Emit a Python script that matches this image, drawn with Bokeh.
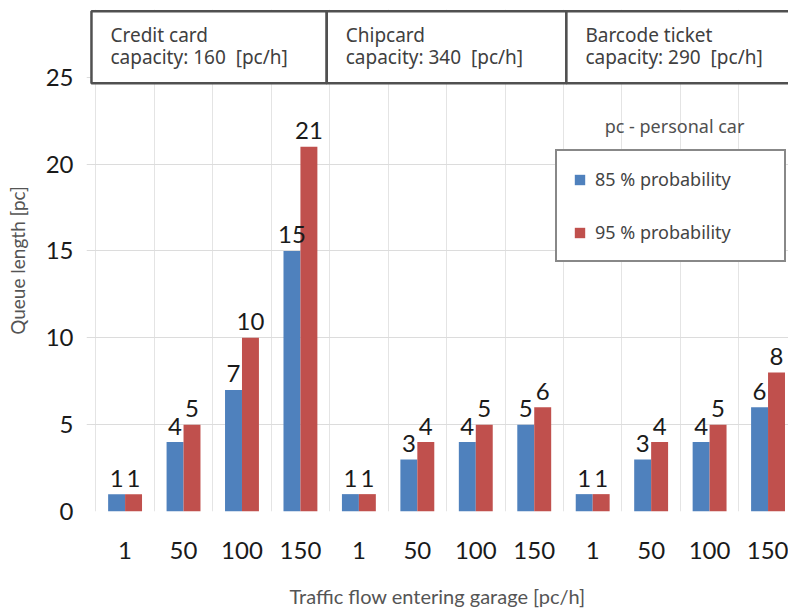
from bokeh.plotting import figure
from bokeh.models import ColumnDataSource, FixedTicker, Range1d, Legend, LegendItem
from bokeh.core.properties import value
from bokeh.embed import file_html
from bokeh.resources import INLINE

# ---- data ----
systems = ["Credit card", "Chipcard", "Barcode ticket"]
capacities = [160, 340, 290]
flows = ["1", "50", "100", "150"]
p85 = [1, 4, 7, 15, 1, 3, 4, 5, 1, 3, 4, 6]
p95 = [1, 5, 10, 21, 1, 4, 5, 6, 1, 4, 5, 8]
series_names = ["85 % probability", "95 % probability"]
y_ticks = [0, 5, 10, 15, 20, 25]

BLUE = "#4F81BD"
RED = "#C0504D"
NUM_FONT = "Lato"
TXT_FONT = "Noto Sans"

n = len(p85)
centers = [i + 0.5 for i in range(n)]
bw = 0.29

src = ColumnDataSource(dict(
    xb=[c - bw / 2 for c in centers],
    xr=[c + bw / 2 for c in centers],
    p85=p85, p95=p95,
    l85=[str(v) for v in p85], l95=[str(v) for v in p95],
))

p = figure(width=788, height=611, output_backend="svg", toolbar_location=None,
           x_range=Range1d(-0.16, 11.85), y_range=Range1d(0, 28.9),
           min_border_left=86, min_border_right=0, min_border_top=9, min_border_bottom=100)
p.outline_line_color = None
p.background_fill_color = "white"

r85 = p.vbar(x="xb", top="p85", width=bw, source=src, fill_color=BLUE, line_color=None)
r95 = p.vbar(x="xr", top="p95", width=bw, source=src, fill_color=RED, line_color=None)

# value labels
for lab, xcol, ycol in (("l85", "xb", "p85"), ("l95", "xr", "p95")):
    p.text(x=xcol, y=ycol, text=lab, source=src,
           text_font=value(NUM_FONT), text_font_size="24px", text_color="#1a1a1a",
           text_align="center", text_baseline="alphabetic", y_offset=-16)

# grids
p.xgrid.ticker = FixedTicker(ticks=list(range(n + 1)))
p.xgrid.grid_line_color = "#e4e4e4"
p.ygrid.ticker = FixedTicker(ticks=y_ticks)
p.ygrid.grid_line_color = "#dcdcdc"

# x axis
p.xaxis.ticker = FixedTicker(ticks=centers)
p.xaxis.major_label_overrides = {c: flows[i % 4] for i, c in enumerate(centers)}
p.xaxis.axis_line_color = None
p.xaxis.major_tick_line_color = None
p.xaxis.minor_tick_line_color = None
p.xaxis.major_label_text_font = NUM_FONT
p.xaxis.major_label_text_font_size = "24px"
p.xaxis.major_label_text_color = "#1a1a1a"
p.xaxis.major_label_standoff = 24
p.xaxis.axis_label = "Traffic flow entering garage [pc/h]"
p.xaxis.axis_label_text_font = NUM_FONT
p.xaxis.axis_label_text_font_size = "20px"
p.xaxis.axis_label_text_font_style = "normal"
p.xaxis.axis_label_text_color = "#555555"
p.xaxis.axis_label_standoff = 22

# y axis
p.yaxis.ticker = FixedTicker(ticks=y_ticks)
p.yaxis.axis_line_color = None
p.yaxis.major_tick_line_color = None
p.yaxis.minor_tick_line_color = None
p.yaxis.major_label_text_font = NUM_FONT
p.yaxis.major_label_text_font_size = "24px"
p.yaxis.major_label_text_color = "#1a1a1a"
p.yaxis.major_label_standoff = 7
p.yaxis.axis_label = "Queue length [pc]"
p.yaxis.axis_label_text_font = NUM_FONT
p.yaxis.axis_label_text_font_size = "19px"
p.yaxis.axis_label_text_font_style = "normal"
p.yaxis.axis_label_text_color = "#555555"
p.yaxis.axis_label_standoff = 14

# header boxes
hdr = ColumnDataSource(dict(
    left=[-0.075, 3.95, 8.05], right=[3.95, 8.05, 12.3],
    name=systems, cap=[f"capacity: {c}\u00a0 [pc/h]" for c in capacities],
))
p.quad(left="left", right="right", bottom=24.65, top=28.8, source=hdr,
       fill_color="white", line_color="#505050", line_width=2.5)
p.text(x="left", y=27.42, text="name", source=hdr, x_offset=19,
       text_font=value(TXT_FONT), text_font_size="19px", text_color="#404040",
       text_baseline="alphabetic", text_align="left")
p.text(x="left", y=26.15, text="cap", source=hdr, x_offset=19,
       text_font=value(TXT_FONT), text_font_size="19px", text_color="#404040",
       text_baseline="alphabetic", text_align="left")

# note
p.text(x=[9.9], y=[22.2], text=["pc - personal car"],
       text_font=value(TXT_FONT), text_font_size="18px", text_color="#505050",
       text_baseline="middle", text_align="center")

legend = Legend(items=[LegendItem(label=series_names[0], renderers=[r85]),
                       LegendItem(label=series_names[1], renderers=[r95])],
                location=(469, 249))
legend.border_line_color = "#111111"
legend.border_line_width = 2
legend.background_fill_alpha = 1
legend.padding = 16
legend.spacing = 29
legend.glyph_height = 13
legend.glyph_width = 13
legend.label_height = 22
legend.label_width = 173
legend.label_standoff = 9
legend.margin = 0
legend.label_text_font = TXT_FONT
legend.label_text_font_size = "18px"
legend.label_text_color = "#444444"
p.add_layout(legend, "center")

open("out.html", "w").write(file_html(p, INLINE))
